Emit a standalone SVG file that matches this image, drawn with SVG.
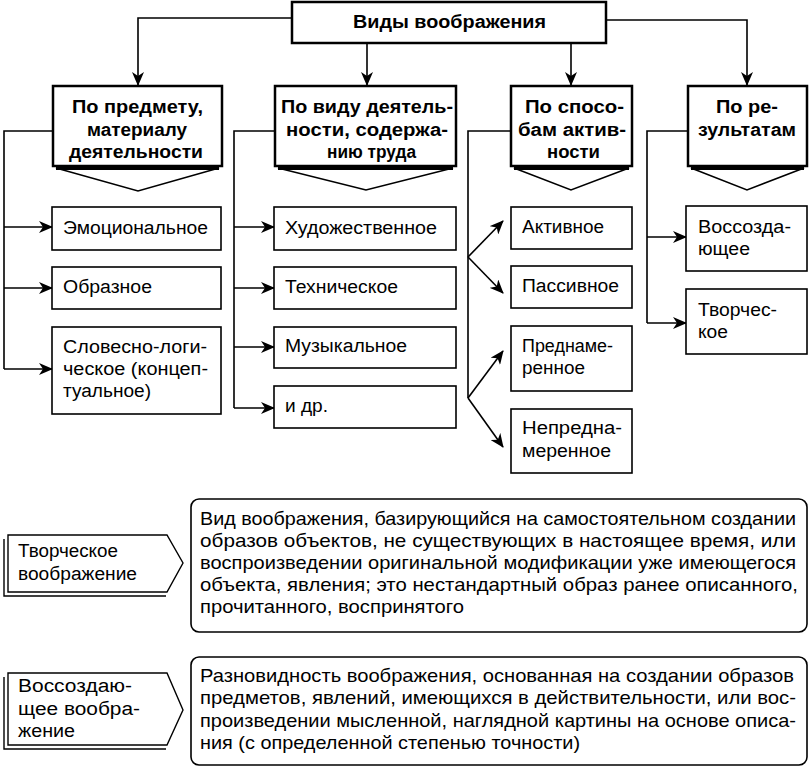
<svg xmlns="http://www.w3.org/2000/svg" width="809" height="768" viewBox="0 0 809 768">
<style>
  .hdr{fill:#fff;stroke:#000;stroke-width:2.5}
  .box{fill:#fff;stroke:#000;stroke-width:1.6}
  .chev{fill:#fff;stroke:#000;stroke-width:1.6;stroke-linejoin:miter}
  .bar{stroke:#000;stroke-width:3}
  .ln{fill:none;stroke:#000;stroke-width:1.6}
  .arr{fill:none;stroke:#000;stroke-width:1.6;marker-end:url(#ah)}
  .b{font-family:"Liberation Sans",Arial,sans-serif;font-weight:bold;font-size:18px;fill:#000}
  .t{font-family:"Liberation Sans",Arial,sans-serif;font-size:18px;fill:#000}
  .n{font-family:"Liberation Sans",Arial,sans-serif;font-size:19px;fill:#000}
  .lab{fill:#fff;stroke:#000;stroke-width:1.4}
  .sh{fill:none;stroke:#000;stroke-width:1.4}
  .def{fill:#fff;stroke:#000;stroke-width:1.6}
</style>
<defs>
  <marker id="ah" markerWidth="14" markerHeight="12" refX="13" refY="6" orient="auto" markerUnits="userSpaceOnUse">
    <path d="M0,0 L14,6 L0,12 L4,6 Z" fill="#000"/>
  </marker>
</defs>

<g id="connectors">
  <polyline class="arr" points="292,18 138,18 138,85"/>
  <polyline class="arr" points="367,43 367,85"/>
  <polyline class="arr" points="571,43 571,85"/>
  <polyline class="arr" points="606,20 747,20 747,85"/>

  <polyline class="ln" points="53,131 4,131 4,369"/>
  <line class="arr" x1="4" y1="227" x2="52" y2="227"/>
  <line class="arr" x1="4" y1="288" x2="52" y2="288"/>
  <line class="arr" x1="4" y1="369" x2="52" y2="369"/>

  <polyline class="ln" points="275,131 234,131 234,408"/>
  <line class="arr" x1="234" y1="227" x2="274" y2="227"/>
  <line class="arr" x1="234" y1="288" x2="274" y2="288"/>
  <line class="arr" x1="234" y1="347" x2="274" y2="347"/>
  <line class="arr" x1="234" y1="408" x2="274" y2="408"/>

  <polyline class="ln" points="511,131 468,131 468,398"/>
  <line class="arr" x1="468" y1="257" x2="503" y2="221"/>
  <line class="arr" x1="468" y1="257" x2="503" y2="293"/>
  <line class="arr" x1="468" y1="398" x2="503" y2="351"/>
  <line class="arr" x1="468" y1="398" x2="503" y2="447"/>

  <polyline class="ln" points="688,131 647,131 647,323"/>
  <line class="arr" x1="647" y1="237" x2="686" y2="237"/>
  <line class="arr" x1="647" y1="323" x2="686" y2="323"/>
</g>

<g id="root">
  <rect class="hdr" x="292" y="2" width="314" height="41"/>
  <text class="b" x="449.5" y="28" text-anchor="middle" textLength="193" lengthAdjust="spacingAndGlyphs">Виды воображения</text>
</g>

<g id="cat1">
  <rect class="hdr" x="53" y="86" width="169" height="80"/>
  <polygon class="chev" points="56,168 219,168 138,191"/>
  <line class="bar" x1="56" y1="168.5" x2="219" y2="168.5"/>
  <text class="b" x="137.5" y="113" text-anchor="middle" textLength="131" lengthAdjust="spacingAndGlyphs">По предмету,</text>
  <text class="b" x="137" y="136" text-anchor="middle" textLength="100" lengthAdjust="spacingAndGlyphs">материалу</text>
  <text class="b" x="136" y="158" text-anchor="middle" textLength="134" lengthAdjust="spacingAndGlyphs">деятельности</text>
</g>

<g id="cat2">
  <rect class="hdr" x="275" y="86" width="181" height="80"/>
  <polygon class="chev" points="278,168 453,168 366,190"/>
  <line class="bar" x1="278" y1="168.5" x2="453" y2="168.5"/>
  <text class="b" x="367" y="113" text-anchor="middle" textLength="172" lengthAdjust="spacingAndGlyphs">По виду деятель-</text>
  <text class="b" x="367" y="136" text-anchor="middle" textLength="162" lengthAdjust="spacingAndGlyphs">ности, содержа-</text>
  <text class="b" x="371.5" y="158" text-anchor="middle" textLength="89" lengthAdjust="spacingAndGlyphs">нию труда</text>
</g>

<g id="cat3">
  <rect class="hdr" x="511" y="86" width="121" height="80"/>
  <polygon class="chev" points="514,168 629,168 571,190"/>
  <line class="bar" x1="514" y1="168.5" x2="629" y2="168.5"/>
  <text class="b" x="574.5" y="113" text-anchor="middle" textLength="99" lengthAdjust="spacingAndGlyphs">По спосо-</text>
  <text class="b" x="572" y="136" text-anchor="middle" textLength="108" lengthAdjust="spacingAndGlyphs">бам актив-</text>
  <text class="b" x="573.5" y="158" text-anchor="middle" textLength="53" lengthAdjust="spacingAndGlyphs">ности</text>
</g>

<g id="cat4">
  <rect class="hdr" x="688" y="86" width="119" height="80"/>
  <polygon class="chev" points="691,168 804,168 747,190"/>
  <line class="bar" x1="691" y1="168.5" x2="804" y2="168.5"/>
  <text class="b" x="747" y="113" text-anchor="middle" textLength="62" lengthAdjust="spacingAndGlyphs">По ре-</text>
  <text class="b" x="747" y="136" text-anchor="middle" textLength="98" lengthAdjust="spacingAndGlyphs">зультатам</text>
</g>

<g id="emotional">
  <rect class="box" x="52" y="207" width="169" height="43"/>
  <text class="t" x="63" y="234" textLength="145" lengthAdjust="spacingAndGlyphs">Эмоциональное</text>
</g>
<g id="figurative">
  <rect class="box" x="52" y="267" width="169" height="42"/>
  <text class="t" x="63" y="293" textLength="89" lengthAdjust="spacingAndGlyphs">Образное</text>
</g>
<g id="verbal">
  <rect class="box" x="52" y="327" width="169" height="87"/>
  <text class="t" x="63" y="353" textLength="144" lengthAdjust="spacingAndGlyphs">Словесно-логи-</text>
  <text class="t" x="63" y="375" textLength="145" lengthAdjust="spacingAndGlyphs">ческое (концеп-</text>
  <text class="t" x="63" y="397" textLength="88" lengthAdjust="spacingAndGlyphs">туальное)</text>
</g>

<g id="artistic">
  <rect class="box" x="274" y="207" width="182" height="43"/>
  <text class="t" x="285" y="234" textLength="152" lengthAdjust="spacingAndGlyphs">Художественное</text>
</g>
<g id="technical">
  <rect class="box" x="274" y="267" width="182" height="42"/>
  <text class="t" x="285" y="293" textLength="113" lengthAdjust="spacingAndGlyphs">Техническое</text>
</g>
<g id="musical">
  <rect class="box" x="274" y="327" width="182" height="41"/>
  <text class="t" x="285" y="352" textLength="122" lengthAdjust="spacingAndGlyphs">Музыкальное</text>
</g>
<g id="etc">
  <rect class="box" x="274" y="386" width="182" height="42"/>
  <text class="t" x="285" y="412" textLength="43" lengthAdjust="spacingAndGlyphs">и др.</text>
</g>

<g id="active">
  <rect class="box" x="511" y="207" width="121" height="42"/>
  <text class="t" x="522" y="233" textLength="82" lengthAdjust="spacingAndGlyphs">Активное</text>
</g>
<g id="passive">
  <rect class="box" x="511" y="266" width="121" height="42"/>
  <text class="t" x="522" y="292" textLength="97" lengthAdjust="spacingAndGlyphs">Пассивное</text>
</g>
<g id="intentional">
  <rect class="box" x="511" y="326" width="121" height="65"/>
  <text class="t" x="522" y="352" textLength="91" lengthAdjust="spacingAndGlyphs">Преднаме-</text>
  <text class="t" x="522" y="374" textLength="63" lengthAdjust="spacingAndGlyphs">ренное</text>
</g>
<g id="unintentional">
  <rect class="box" x="511" y="409" width="121" height="64"/>
  <text class="t" x="522" y="434" textLength="100" lengthAdjust="spacingAndGlyphs">Непредна-</text>
  <text class="t" x="522" y="457" textLength="89" lengthAdjust="spacingAndGlyphs">меренное</text>
</g>

<g id="recreative">
  <rect class="box" x="686" y="206" width="121" height="65"/>
  <text class="t" x="698" y="233" textLength="93" lengthAdjust="spacingAndGlyphs">Воссозда-</text>
  <text class="t" x="698" y="255" textLength="52" lengthAdjust="spacingAndGlyphs">ющее</text>
</g>
<g id="creative">
  <rect class="box" x="686" y="289" width="121" height="65"/>
  <text class="t" x="698" y="316" textLength="79" lengthAdjust="spacingAndGlyphs">Творчес-</text>
  <text class="t" x="698" y="338" textLength="30" lengthAdjust="spacingAndGlyphs">кое</text>
</g>

<g id="label-creative">
  <polyline class="sh" points="4,539 4,596 166,596"/>
  <polygon class="lab" points="8,535 167,535 183,563 167,592 8,592"/>
  <text class="t" x="18" y="557" textLength="100" lengthAdjust="spacingAndGlyphs">Творческое</text>
  <text class="t" x="18" y="580" textLength="119" lengthAdjust="spacingAndGlyphs">воображение</text>
</g>
<g id="def-creative">
  <rect class="def" x="191" y="499" width="616" height="133" rx="8" ry="8"/>
  <text class="n" x="200" y="525" textLength="596" lengthAdjust="spacingAndGlyphs">Вид воображения, базирующийся на самостоятельном создании</text>
  <text class="n" x="200" y="547" textLength="596" lengthAdjust="spacingAndGlyphs">образов объектов, не существующих в настоящее время, или</text>
  <text class="n" x="200" y="569" textLength="596" lengthAdjust="spacingAndGlyphs">воспроизведении оригинальной модификации уже имеющегося</text>
  <text class="n" x="200" y="591" textLength="598" lengthAdjust="spacingAndGlyphs">объекта, явления; это нестандартный образ ранее описанного,</text>
  <text class="n" x="200" y="613" textLength="264" lengthAdjust="spacingAndGlyphs">прочитанного, воспринятого</text>
</g>

<g id="label-recreative">
  <polyline class="sh" points="4,677 4,749 166,749"/>
  <polygon class="lab" points="8,673 167,673 183,710 167,745 8,745"/>
  <text class="t" x="18" y="692" textLength="114" lengthAdjust="spacingAndGlyphs">Воссоздаю-</text>
  <text class="t" x="18" y="715" textLength="122" lengthAdjust="spacingAndGlyphs">щее вообра-</text>
  <text class="t" x="18" y="737" textLength="57" lengthAdjust="spacingAndGlyphs">жение</text>
</g>
<g id="def-recreative">
  <rect class="def" x="191" y="657" width="616" height="108" rx="8" ry="8"/>
  <text class="n" x="200" y="682" textLength="594" lengthAdjust="spacingAndGlyphs">Разновидность воображения, основанная на создании образов</text>
  <text class="n" x="200" y="704" textLength="596" lengthAdjust="spacingAndGlyphs">предметов, явлений, имеющихся в действительности, или вос-</text>
  <text class="n" x="200" y="727" textLength="596" lengthAdjust="spacingAndGlyphs">произведении мысленной, наглядной картины на основе описа-</text>
  <text class="n" x="200" y="749" textLength="380" lengthAdjust="spacingAndGlyphs">ния (с определенной степенью точности)</text>
</g>
</svg>
